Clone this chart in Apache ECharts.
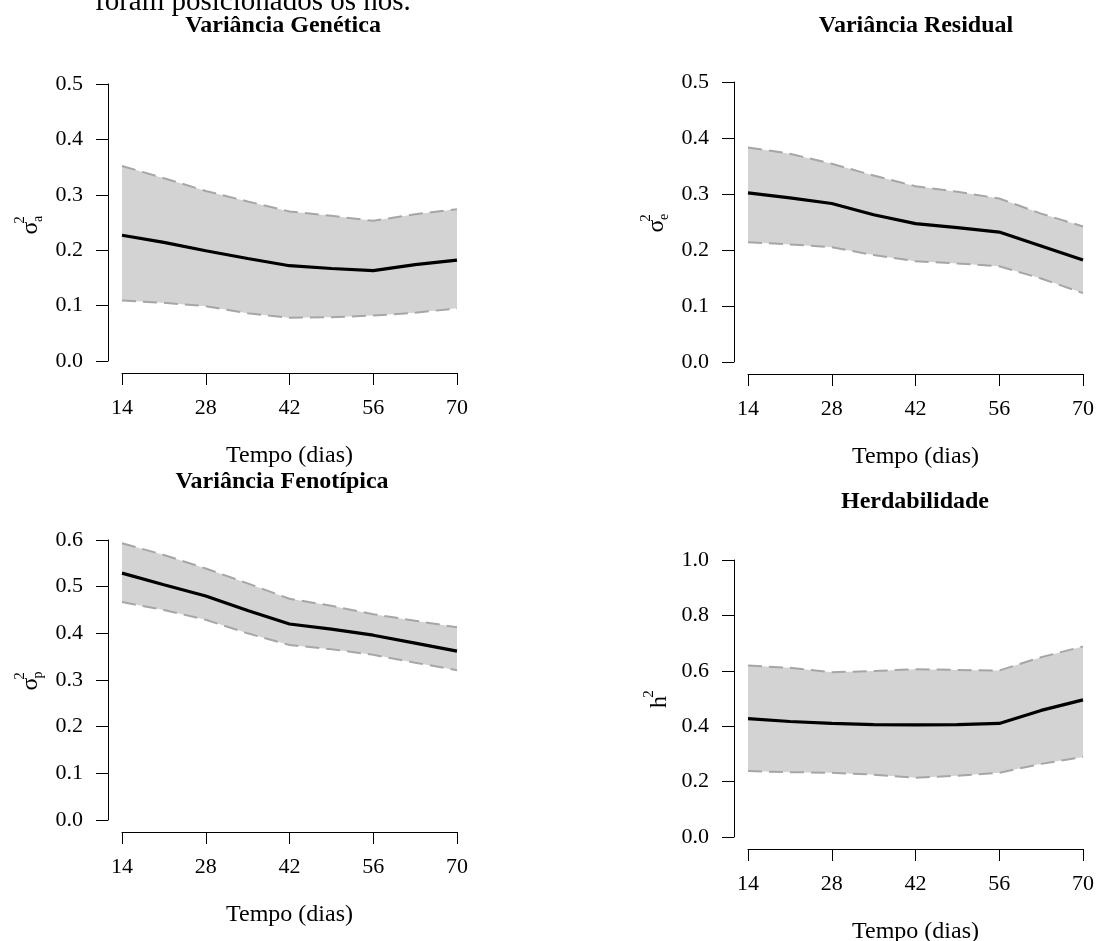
<!DOCTYPE html>
<html>
<head>
<meta charset="utf-8">
<script src="https://cdn.jsdelivr.net/npm/echarts@6/dist/echarts.min.js"></script>
<style>
html,body{margin:0;padding:0;background:#fff;}
#c{width:1096px;height:941px;}
</style>
</head>
<body>
<div id="c"></div>
<script>
// ---- data ----
const days = [14, 21, 28, 35, 42, 49, 56, 63, 70];

const genMean  = [0.227, 0.214, 0.199, 0.185, 0.172, 0.167, 0.163, 0.174, 0.182];
const genUpper = [0.352, 0.330, 0.307, 0.288, 0.270, 0.262, 0.253, 0.265, 0.274];
const genLower = [0.109, 0.105, 0.099, 0.086, 0.078, 0.079, 0.082, 0.087, 0.095];

const resMean  = [0.302, 0.293, 0.283, 0.263, 0.247, 0.240, 0.232, 0.207, 0.182];
const resUpper = [0.383, 0.372, 0.354, 0.333, 0.314, 0.304, 0.292, 0.265, 0.242];
const resLower = [0.214, 0.210, 0.205, 0.191, 0.180, 0.176, 0.171, 0.149, 0.123];

const fenMean  = [0.529, 0.504, 0.480, 0.449, 0.420, 0.409, 0.396, 0.379, 0.362];
const fenUpper = [0.593, 0.568, 0.539, 0.507, 0.474, 0.459, 0.441, 0.427, 0.413];
const fenLower = [0.467, 0.450, 0.429, 0.400, 0.375, 0.366, 0.354, 0.337, 0.321];

const herMean  = [0.427, 0.417, 0.410, 0.406, 0.405, 0.406, 0.410, 0.457, 0.495];
const herUpper = [0.619, 0.611, 0.595, 0.599, 0.606, 0.603, 0.601, 0.649, 0.688];
const herLower = [0.238, 0.234, 0.232, 0.225, 0.214, 0.221, 0.232, 0.264, 0.289];

const panelTitles = ['Variância Genética', 'Variância Residual', 'Variância Fenotípica', 'Herdabilidade'];
const xAxisName = 'Tempo (dias)';
const yMaxes = [0.5, 0.5, 0.6, 1.0];
const yIntervals = [0.1, 0.1, 0.1, 0.2];
const topText = 'foram posicionados os nós.';

// ---- layout ----
const SERIF = '"Liberation Serif", "Times New Roman", serif';
const panels = [
  {mean: genMean, up: genUpper, lo: genLower, grid: {left: 122, top: 84, width: 335, height: 277}, title: [283, 26], ylab: [31, 228, 'σ', 'a']},
  {mean: resMean, up: resUpper, lo: resLower, grid: {left: 748, top: 82, width: 335, height: 280}, title: [916, 26], ylab: [657, 226, 'σ', 'e']},
  {mean: fenMean, up: fenUpper, lo: fenLower, grid: {left: 122, top: 540, width: 335, height: 280}, title: [282, 482], ylab: [31, 684, 'σ', 'p']},
  {mean: herMean, up: herUpper, lo: herLower, grid: {left: 748, top: 560, width: 335, height: 277}, title: [915, 502], ylab: [660, 702, 'h', '']}
];

const grids = [], xAxes = [], yAxes = [], series = [], graphics = [];

panels.forEach((p, i) => {
  grids.push(Object.assign({containLabel: false, outerBoundsMode: 'none'}, p.grid));
  xAxes.push({
    type: 'value', gridIndex: i, min: 14, max: 70, interval: 14,
    offset: 12,
    name: xAxisName, nameLocation: 'middle', nameGap: 71,
    nameTextStyle: {fontFamily: SERIF, fontSize: 24, color: '#000'},
    axisLine: {show: true, onZero: false, lineStyle: {color: '#000', width: 1}},
    axisTick: {show: true, length: 12, lineStyle: {color: '#000', width: 1}},
    axisLabel: {fontFamily: SERIF, fontSize: 22, color: '#000', margin: 24},
    splitLine: {show: false}
  });
  yAxes.push({
    type: 'value', gridIndex: i, min: 0, max: yMaxes[i], interval: yIntervals[i],
    offset: 14,
    axisLine: {show: true, lineStyle: {color: '#000', width: 1}},
    axisTick: {show: true, length: 12, lineStyle: {color: '#000', width: 1}},
    axisLabel: {fontFamily: SERIF, fontSize: 22, color: '#000', margin: 25,
      formatter: v => v.toFixed(1)},
    splitLine: {show: false}
  });
  // band: gray area under the upper bound, white area under the lower bound
  series.push({
    type: 'line', xAxisIndex: i, yAxisIndex: i, data: days.map((d, k) => [d, p.up[k]]),
    symbol: 'none', lineStyle: {opacity: 0}, areaStyle: {color: '#d3d3d3', opacity: 1, origin: 'start'}, silent: true, z: 1
  });
  series.push({
    type: 'line', xAxisIndex: i, yAxisIndex: i, data: days.map((d, k) => [d, p.lo[k]]),
    symbol: 'none', lineStyle: {opacity: 0}, areaStyle: {color: '#ffffff', opacity: 1, origin: 'start'}, silent: true, z: 1.5
  });
  [p.up, p.lo].forEach(arr => {
    series.push({
      type: 'line', xAxisIndex: i, yAxisIndex: i, data: days.map((d, k) => [d, arr[k]]),
      symbol: 'none', lineStyle: {color: '#a6a6a6', width: 2, type: [14, 7]}, z: 2
    });
  });
  series.push({
    type: 'line', xAxisIndex: i, yAxisIndex: i, data: days.map((d, k) => [d, p.mean[k]]),
    symbol: 'none', lineStyle: {color: '#000', width: 3.2}, z: 3
  });

  graphics.push({
    type: 'text', x: p.title[0], y: p.title[1],
    style: {text: panelTitles[i], font: 'bold 24px ' + SERIF, fill: '#000', textAlign: 'center', textVerticalAlign: 'middle'}
  });
  const [cx, cy, base, sub] = p.ylab;
  const children = [
    {type: 'text', x: 0, y: 0, style: {text: base, font: '24px ' + SERIF, fill: '#000', textAlign: 'center', textVerticalAlign: 'middle'}},
    {type: 'text', x: 8, y: -11, style: {text: '2', font: '15px ' + SERIF, fill: '#000', textAlign: 'center', textVerticalAlign: 'middle'}}
  ];
  if (sub) children.push({type: 'text', x: 9, y: 7, style: {text: sub, font: '14px ' + SERIF, fill: '#000', textAlign: 'center', textVerticalAlign: 'middle'}});
  graphics.push({type: 'group', x: cx, y: cy, rotation: Math.PI / 2, children});
});

graphics.push({
  type: 'text', x: 95, y: 17,
  style: {text: topText, font: '29px ' + SERIF, fill: '#000', textAlign: 'left', textVerticalAlign: 'bottom'}
});

const chart = echarts.init(document.getElementById('c'), null, {renderer: 'canvas'});
chart.setOption({
  animation: false,
  backgroundColor: '#fff',
  grid: grids, xAxis: xAxes, yAxis: yAxes, series: series, graphic: graphics
});
</script>
</body>
</html>
